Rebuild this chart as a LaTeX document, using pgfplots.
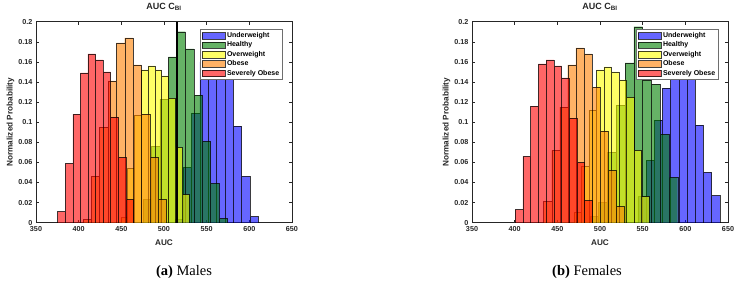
\documentclass[border=0pt]{standalone}
\usepackage{fontspec}
\setmainfont{Liberation Sans}
\newfontfamily\capfont{Liberation Serif}
\usepackage{pgfplots}
\pgfplotsset{compat=1.18}
\definecolor{mBlue}{rgb}{0,0,1}
\definecolor{mGreen}{rgb}{0,0.5,0}
\definecolor{mYellow}{rgb}{1,1,0}
\definecolor{mOrange}{rgb}{1,0.5,0}
\definecolor{mRed}{rgb}{1,0,0}
\definecolor{axgray}{rgb}{0.15,0.15,0.15}
\pgfplotsset{
  hist/.style={ybar interval, fill=#1, fill opacity=0.6, draw=black, draw opacity=0.75, line width=0.4bp,
    legend image code/.code={\draw[fill=#1, fill opacity=0.6, draw=black, line width=0.4bp] (0bp,-3.3bp) rectangle (23bp,3.3bp);}},
  myaxis/.style={
    scale only axis, width=256bp, height=201bp,
    xmin=350, xmax=650, ymin=0, ymax=0.2,
    xtick={350,400,450,500,550,600,650},
    ytick={0,0.02,0.04,0.06,0.08,0.1,0.12,0.14,0.16,0.18,0.2},
    yticklabels={0,0.02,0.04,0.06,0.08,0.1,0.12,0.14,0.16,0.18,0.2},
    xticklabels={350,400,450,500,550,600,650},
    scaled y ticks=false,
    tick align=inside, major tick length=3bp,
    axis line style={axgray, line width=0.6bp},
    every tick/.style={axgray, line width=0.5bp},
    tick label style={font=\bfseries\fontsize{7.2bp}{8bp}\selectfont, text=axgray},
    /pgf/number format/assume math mode=true,
    xlabel={AUC}, ylabel={Normalized Probability},
    label style={font=\bfseries\fontsize{8.2bp}{9bp}\selectfont, text=axgray},
    xlabel style={at={(axis description cs:0.5,-0.1)}, anchor=center},
    ylabel style={at={(axis description cs:-0.1,0.5)}, anchor=center},
    title={AUC C\textsubscript{BI}},
    title style={font=\bfseries\fontsize{9bp}{10bp}\selectfont, at={(axis description cs:0.5,1)}, anchor=base, yshift=6.5bp, text=axgray},
    legend cell align=left,
    legend style={at={(0.964,0.964)}, anchor=north east, font=\bfseries\fontsize{7bp}{8bp}\selectfont,
      fill=white, fill opacity=1, draw opacity=1, text opacity=1, draw={rgb,255:red,110;green,110;blue,110}, line width=0.8bp,
      inner xsep=1.2bp, inner ysep=1.2bp, row sep=-1.2bp},
  }
}
\begin{document}
\begin{tikzpicture}
\useasboundingbox (0,0) rectangle (743bp,287bp);
% ---------------- Males ----------------
\begin{axis}[myaxis, at={(36bp,64.3bp)}, anchor=south west]
\addplot[hist=mBlue] coordinates {(512.6,0.003) (522.4,0.055) (532.2,0.109) (542.0,0.160) (551.8,0.172) (561.6,0.180) (571.4,0.173) (581.2,0.096) (591.0,0.046) (600.8,0.006) (610.6,0)};
\addlegendentry{Underweight}
\addplot[hist=mGreen] coordinates {(475.5,0.023) (485.4,0.076) (495.3,0.123) (505.2,0.165) (515.1,0.190) (525.0,0.173) (534.9,0.127) (544.8,0.081) (554.7,0.039) (564.6,0.004) (574.5,0)};
\addlegendentry{Healthy}
\addplot[hist=mYellow] coordinates {(449.3,0.005) (457.3,0.054) (465.3,0.107) (473.3,0.152) (481.3,0.156) (489.3,0.152) (497.3,0.146) (505.3,0.124) (513.3,0.075) (521.3,0.028) (529.3,0)};
\addlegendentry{Overweight}
\addplot[hist=mOrange] coordinates {(405.0,0.003) (414.8,0.046) (424.6,0.095) (434.4,0.141) (444.2,0.179) (454.0,0.184) (463.8,0.157) (473.6,0.108) (483.4,0.065) (493.2,0.023) (503.0,0)};
\addlegendentry{Obese}
\addplot[hist=mRed] coordinates {(375.4,0.011) (384.3,0.059) (393.1,0.108) (402.0,0.149) (410.9,0.168) (419.8,0.162) (428.6,0.150) (437.5,0.105) (446.4,0.065) (455.2,0.023) (464.1,0)};
\addlegendentry{Severely Obese}
\addplot[black, line width=1.5bp, forget plot] coordinates {(515,0) (515,0.2)};
\end{axis}
% ---------------- Females ----------------
\begin{axis}[myaxis, at={(472bp,64.3bp)}, anchor=south west]
\addplot[hist=mBlue] coordinates {(544.4,0.026) (554.0,0.062) (563.6,0.102) (573.2,0.134) (582.8,0.160) (592.4,0.175) (602.0,0.165) (611.6,0.097) (621.2,0.050) (630.8,0.027) (640.4,0)};
\addlegendentry{Underweight}
\addplot[hist=mGreen] coordinates {(488.1,0.006) (498.4,0.020) (508.7,0.070) (519.0,0.117) (529.3,0.159) (539.6,0.195) (549.9,0.142) (560.2,0.138) (570.5,0.088) (580.8,0.045) (591.1,0)};
\addlegendentry{Healthy}
\addplot[hist=mYellow] coordinates {(469.4,0.010) (478.2,0.056) (487.0,0.112) (495.8,0.152) (504.6,0.155) (513.4,0.150) (522.2,0.142) (531.0,0.125) (539.8,0.072) (548.6,0.026) (557.4,0)};
\addlegendentry{Overweight}
\addplot[hist=mOrange] coordinates {(434.0,0.021) (443.4,0.072) (452.8,0.115) (462.2,0.157) (471.6,0.174) (481.0,0.168) (490.4,0.135) (499.8,0.091) (509.2,0.052) (518.6,0.016) (528.0,0)};
\addlegendentry{Obese}
\addplot[hist=mRed] coordinates {(400.6,0.013) (409.65,0.066) (418.7,0.116) (427.75,0.158) (436.8,0.162) (445.85,0.156) (454.9,0.144) (463.95,0.104) (473.0,0.060) (482.05,0.022) (491.1,0)};
\addlegendentry{Severely Obese}
\end{axis}
% captions
\node[font=\capfont\fontsize{14.5bp}{16bp}\selectfont, anchor=base] at (184bp,12bp) {\textbf{(a)} Males};
\node[font=\capfont\fontsize{14.5bp}{16bp}\selectfont, anchor=base] at (587bp,12bp) {\textbf{(b)} Females};
\end{tikzpicture}
\end{document}
